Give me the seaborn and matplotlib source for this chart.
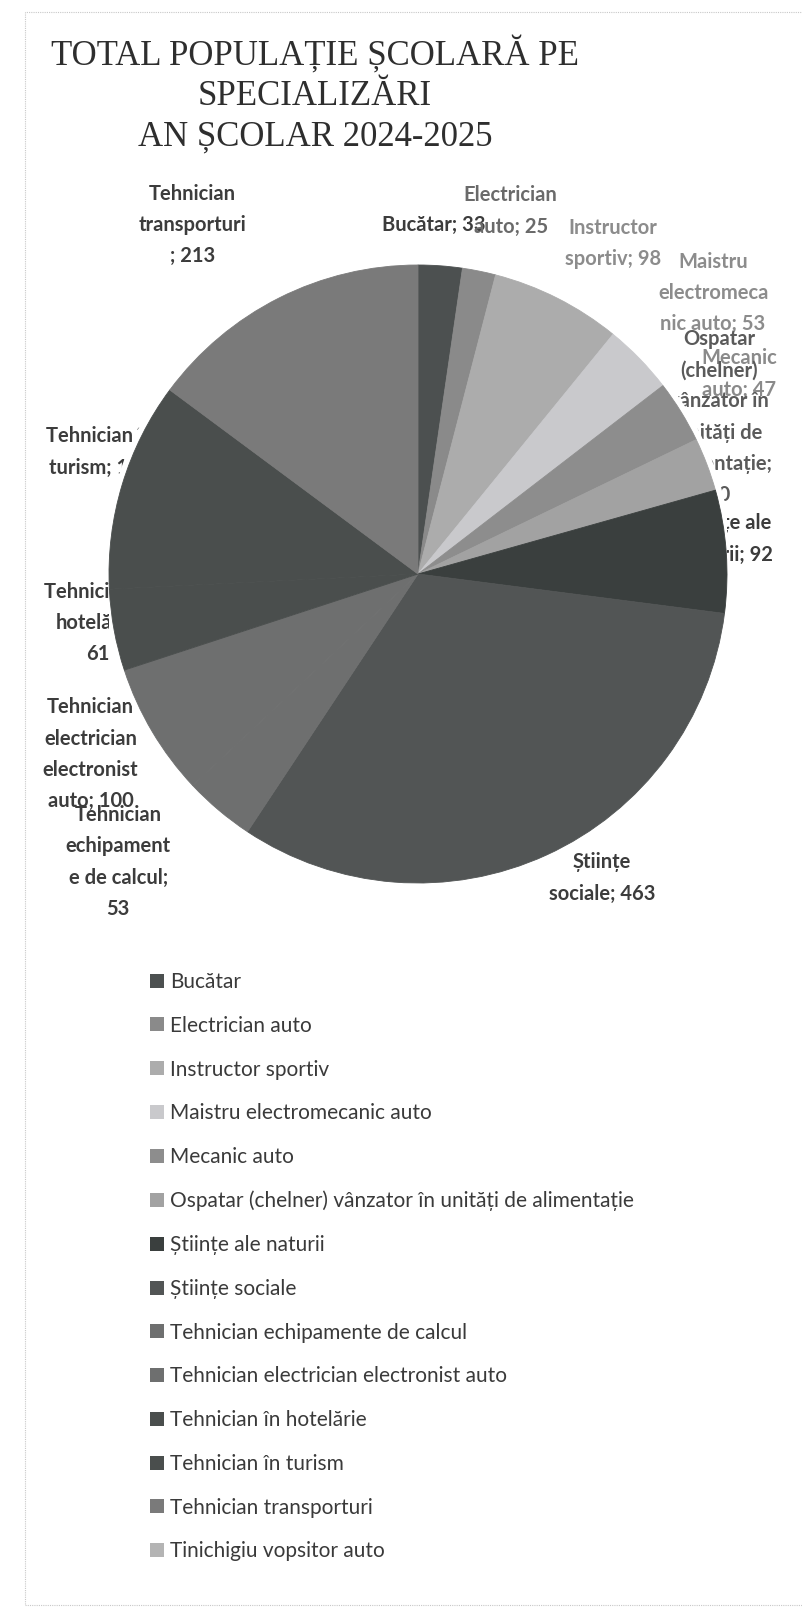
import matplotlib
matplotlib.use("Agg")
import matplotlib.pyplot as plt
from matplotlib.patches import Patch, Circle, Rectangle
import seaborn as sns

# ---------------- data ----------------
categories = [
    "Bucătar",
    "Electrician auto",
    "Instructor sportiv",
    "Maistru electromecanic auto",
    "Mecanic auto",
    "Ospatar (chelner) vânzator în unități de alimentație",
    "Științe ale naturii",
    "Științe sociale",
    "Tehnician echipamente de calcul",
    "Tehnician electrician electronist auto",
    "Tehnician în hotelărie",
    "Tehnician în turism",
    "Tehnician transporturi",
    "Tinichigiu vopsitor auto",
]
values = [33, 25, 98, 53, 47, 40, 92, 463, 53, 100, 61, 157, 213, 0]

# wrapped data labels as shown on the chart (None = not shown)
label_texts = [
    "Bucătar; 33",
    "Electrician\nauto; 25",
    "Instructor\nsportiv; 98",
    "Maistru\nelectromeca\nnic auto; 53",
    "Mecanic\nauto; 47",
    "Ospatar\n(chelner)\nvânzator în\nunități de\nalimentație;\n40",
    "Științe ale\nnaturii; 92",
    "Științe\nsociale; 463",
    "Tehnician\nechipament\ne de calcul;\n53",
    "Tehnician\nelectrician\nelectronist\nauto; 100",
    "Tehnician în\nhotelărie;\n61",
    "Tehnician în\nturism; 157",
    "Tehnician\ntransporturi\n; 213",
    None,
]

title_text = "TOTAL POPULAȚIE ȘCOLARĂ PE\nSPECIALIZĂRI\nAN ȘCOLAR 2024-2025"

# ---------------- style ----------------
slice_colors = [
    "#4c5050", "#8a8a8a", "#acacac", "#c9c9cc", "#8d8d8d", "#a2a2a2",
    "#3a3f3e", "#525555", "#6e6f6f", "#6e6f6f", "#4a4e4d", "#4a4e4d",
    "#7a7a7a", "#b4b4b4",
]
label_colors = [
    "#3c3c3c", "#6a6a6a", "#8c8c8c", "#8c8c8c", "#8a8a8a", "#5a5a5a",
    "#3c3c3c", "#3c3c3c", "#3c3c3c", "#3c3c3c", "#3c3c3c", "#3c3c3c",
    "#3c3c3c", "#3c3c3c",
]
# label anchor positions in pie units (pie radius = 1)
label_pos = [
    (0.05, 1.13), (0.30, 1.175), (0.63, 1.07), (0.955, 0.909), (1.04, 0.647),
    (0.975, 0.508), (1.0, 0.113), (0.595, -0.984), (-0.97, -0.932),
    (-1.06, -0.583), (-1.035, -0.159), (-1.03, 0.395), (-0.73, 1.129), (0, 0),
]

sns.set_theme(style="white")
plt.rcParams["font.family"] = ["Lato", "DejaVu Sans"]

W, H = 803, 1618
fig = plt.figure(figsize=(W / 100, H / 100), dpi=100)
fig.patch.set_facecolor("white")

# chart border
fig.add_artist(Rectangle((25 / W, 1 - 1605 / H), (W - 20) / W, (1605 - 12) / H,
                         transform=fig.transFigure, fill=False,
                         edgecolor="#c8c8c8", linewidth=0.8, linestyle=(0, (1, 1))))

# title
fig.text(315 / W, 1 - 94 / H, title_text, ha="center", va="center",
         fontsize=25, family=["Liberation Serif", "DejaVu Serif"],
         color="#2e2e2e", linespacing=1.29)

# pie
cx, cy, r = 418, 574, 309
ax = fig.add_axes([(cx - r) / W, (H - cy - r) / H, 2 * r / W, 2 * r / H])
wedges, _ = ax.pie(values, colors=slice_colors, startangle=90, counterclock=False,
                   radius=1, wedgeprops=dict(linewidth=0.6, zorder=3))
for w, c, v in zip(wedges, slice_colors, values):
    w.set_edgecolor(c)
    if v == 0:
        w.set_linewidth(0)
        w.set_visible(False)
ax.set_xlim(-1, 1)
ax.set_ylim(-1, 1)
ax.set_aspect("equal")
ax.axis("off")

# soft white halo around the pie (covers label parts that reach the pie)
ax.add_patch(Circle((0, 0), 1.02, facecolor="white", edgecolor="none", zorder=2))

for txt, (lx, ly), col in zip(label_texts, label_pos, label_colors):
    if txt is None:
        continue
    ax.text(lx, ly, txt, ha="center", va="center", fontsize=14.5,
            fontweight="bold", color=col, linespacing=1.7, zorder=1,
            clip_on=False, family=["Lato", "DejaVu Sans"])

# legend
handles = [Patch(facecolor=c, edgecolor="none") for c in slice_colors]
leg = fig.legend(handles, categories, loc="upper left",
                 bbox_to_anchor=(150 / W, 1 - 972 / H), frameon=False,
                 fontsize=15, handlelength=0.66, handleheight=0.66,
                 handletextpad=0.3, labelspacing=1.14, borderpad=0,
                 borderaxespad=0)
for t in leg.get_texts():
    t.set_color("#3a3a3a")

fig.savefig("out.png", dpi=100, facecolor="white")
